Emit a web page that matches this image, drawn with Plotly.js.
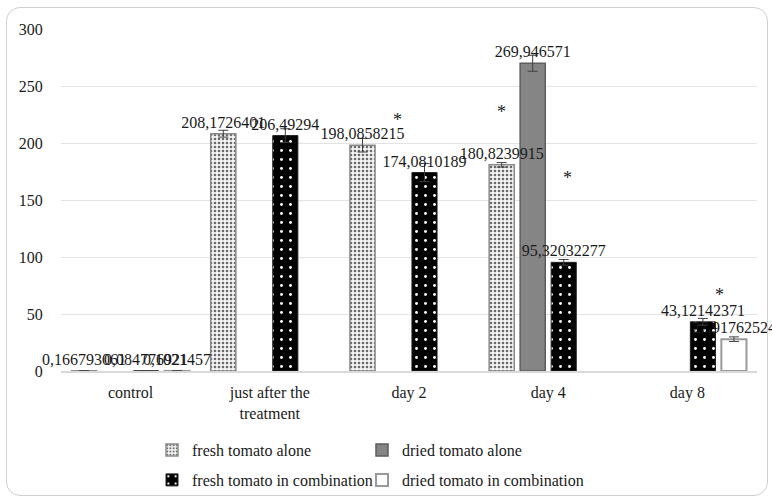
<!DOCTYPE html>
<html>
<head>
<meta charset="utf-8">
<script src="https://cdn.plot.ly/plotly-3.0.1.min.js"></script>
<style>
  html, body { margin: 0; padding: 0; background: #fff; }
  #wrap { position: relative; width: 772px; height: 500px; }
  #chart { position: absolute; left: 0; top: 0; width: 772px; height: 500px; }
  #frame { position: absolute; left: 6px; top: 7px; width: 762px; height: 489px;
           border: 1.5px solid #cfcfcf; border-radius: 14px; pointer-events: none; box-sizing: border-box; }
</style>
</head>
<body>
<div id="wrap"><div id="chart"></div><div id="frame"></div></div>
<script>
// ---- data ----
const categories = ["control", "just after", "day 2", "day 4", "day 8"];
const tickLabels = ["control", "just after the<br>treatment", "day 2", "day 4", "day 8"];

const freshAlone = [0.166793061, 208.1726401, 198.0858215, 180.8239915, null];
const driedAlone = [null, null, null, 269.946571, null];
const freshComb  = [0.084776921, 206.49294, 174.0810189, 95.32032277, 43.12142371];
const driedComb  = [0.1021457, null, null, null, 27.91762524];

const errFreshAlone = [0, 3, 6, 2, 0];
const errDriedAlone = [0, 0, 0, 7, 0];
const errFreshComb  = [0, 6, 8, 2.5, 3];
const errDriedComb  = [0, 0, 0, 0, 2];

const seriesNames = ["fresh tomato alone", "dried tomato alone",
                     "fresh tomato in combination", "dried tomato in combination"];

// significance asterisks
const starCats  = ["day 2", "day 4", "day 4", "day 8"];
const starVals  = [220, 227, 169, 67];
const starShift = [-12, -47, 19, 32];

// ---- drawing ----
const FONT = "Liberation Serif";
const TXT = "#1a1a1a";
const fmt = v => (v === null ? null : String(v).replace(".", ","));

const markers = [
  { color: "#ececec",
    pattern: { shape: ".", fgcolor: "#6a6a6a", bgcolor: "#f4f4f4", size: 4, solidity: 0.35, fillmode: "replace" },
    line: { color: "#8a8a8a", width: 1.5 } },
  { color: "#858585", line: { color: "#5e5e5e", width: 1.5 } },
  { color: "#000",
    pattern: { shape: ".", fgcolor: "#ffffff", bgcolor: "#000000", size: 9, solidity: 0.08, fillmode: "replace" },
    line: { color: "#222", width: 1 } },
  { color: "#ffffff", line: { color: "#9a9a9a", width: 2 } }
];
const seriesY = [freshAlone, driedAlone, freshComb, driedComb];
const seriesErr = [errFreshAlone, errDriedAlone, errFreshComb, errDriedComb];
const legends = ["legend", "legend2", "legend3", "legend4"];

const traces = [];
// bars with error bars
seriesY.forEach((y, i) => {
  traces.push({
    type: "bar", name: seriesNames[i], x: categories, y: y,
    offsetgroup: "g" + i,
    error_y: { type: "data", array: seriesErr[i], visible: true, color: "#404040", thickness: 1, width: 5 },
    marker: markers[i], legend: legends[i], hoverinfo: "skip", cliponaxis: false
  });
});
// data labels drawn on top of every bar
seriesY.forEach((y, i) => {
  traces.push({
    type: "bar", name: seriesNames[i] + " labels", x: categories, y: y,
    offsetgroup: "g" + i, showlegend: false,
    text: y.map(fmt), textposition: "outside", textangle: 0,
    constraintext: "none", cliponaxis: false,
    textfont: { family: FONT, size: 16, color: TXT },
    marker: { color: "rgba(0,0,0,0)", line: { width: 0 } }, hoverinfo: "skip"
  });
});

const annotations = starCats.map((c, i) => ({
  x: c, y: starVals[i], xref: "x", yref: "y", text: "*", showarrow: false,
  xshift: starShift[i], font: { family: FONT, size: 18, color: TXT }
}));

const legendBase = {
  orientation: "h", xref: "container", yref: "container", xanchor: "left", yanchor: "top",
  font: { family: FONT, size: 16, color: TXT }, bgcolor: "rgba(0,0,0,0)",
  itemwidth: 30, traceorder: "normal"
};
const legendX = [152, 362, 152, 362];
const legendY = [433, 433, 463, 463];

const layout = {
  width: 772, height: 500,
  margin: { l: 61, r: 15, t: 29, b: 129 },
  paper_bgcolor: "#fff", plot_bgcolor: "#fff",
  font: { family: FONT, size: 16, color: TXT },
  barmode: "group", bargap: 0.109, bargroupgap: 0.19,
  showlegend: true,
  xaxis: {
    type: "category", tickvals: categories, ticktext: tickLabels,
    showline: true, linecolor: "#d9d9d9", linewidth: 1.5,
    ticks: "outside", ticklen: 6, tickcolor: "rgba(0,0,0,0)",
    showgrid: false, fixedrange: true,
    tickfont: { family: FONT, size: 16, color: TXT }
  },
  yaxis: {
    range: [0, 300], dtick: 50, gridcolor: "#e3e3e3", gridwidth: 1,
    zeroline: false, showline: false,
    ticks: "outside", ticklen: 14, tickcolor: "rgba(0,0,0,0)",
    tickfont: { family: FONT, size: 16, color: TXT }, fixedrange: true
  },
  annotations: annotations
};
legends.forEach((lg, i) => {
  layout[lg] = Object.assign({}, legendBase, { x: legendX[i] / 772, y: 1 - legendY[i] / 500 });
});

Plotly.newPlot("chart", traces, layout, { displayModeBar: false, staticPlot: true });
</script>
</body>
</html>
